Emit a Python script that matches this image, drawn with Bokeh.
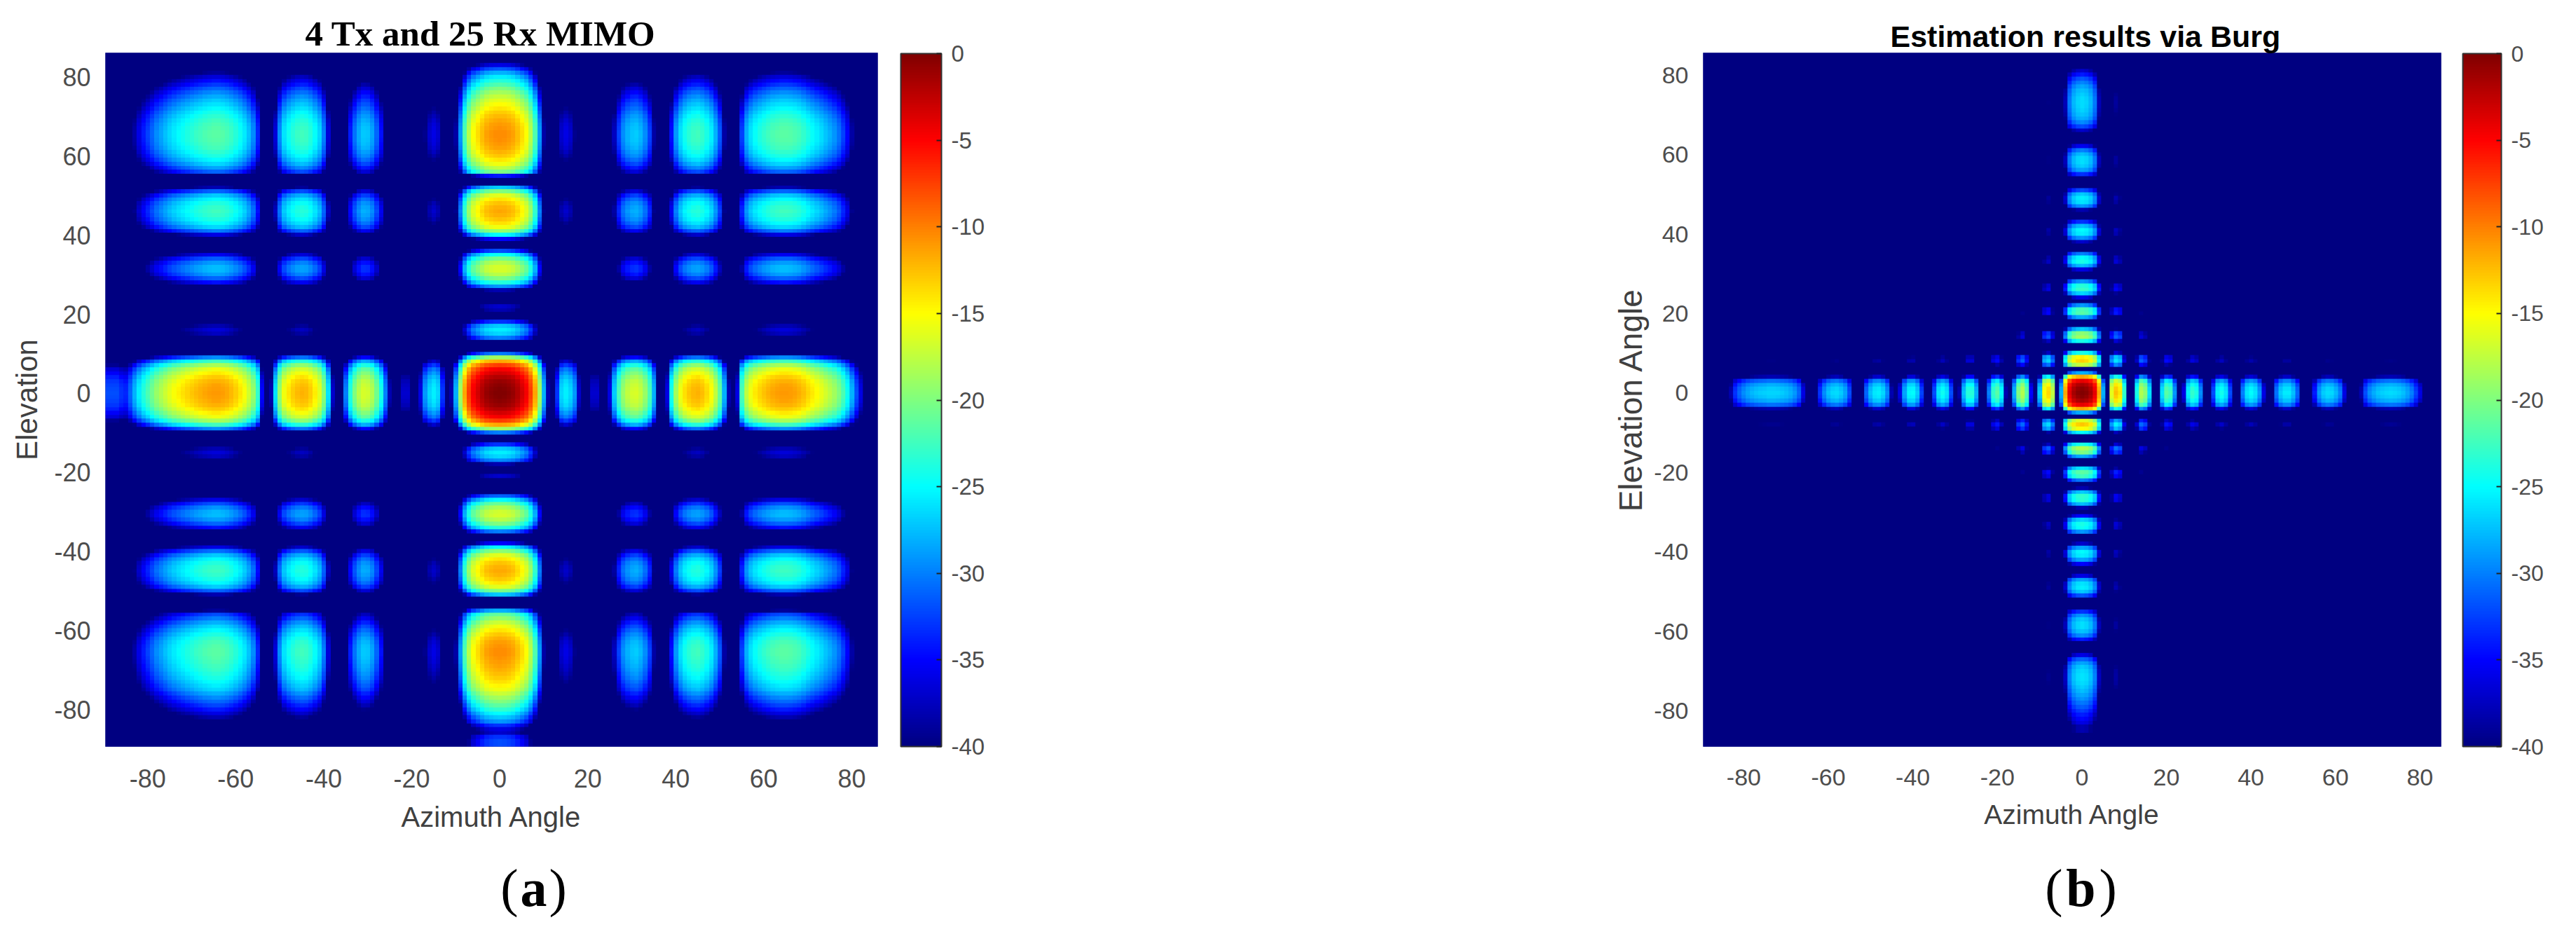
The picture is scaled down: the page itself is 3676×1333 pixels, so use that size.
import numpy as np
from bokeh.embed import file_html
from bokeh.resources import INLINE
from bokeh.layouts import column, row
from bokeh.plotting import figure
from bokeh.models import (AllLabels, ColorBar, FixedTicker, Label, LinearColorMapper,
                          PrintfTickFormatter, Range1d)

# Angles (degrees) of the samples in every cut below
cut_angles = list(range(-90, 87))
tick_values = [-80, -60, -40, -20, 0, 20, 40, 60, 80]
tick_labels = ["-80", "-60", "-40", "-20", "0", "20", "40", "60", "80"]
bar_values = [0, -5, -10, -15, -20, -25, -30, -35, -40]

# Panel (a): dB along the elevation = 0 row
a_azimuth_db = [
    -32, -32, -32, -32, -33, -33.5, -31, -28, -25.5, -23.5,
    -22, -20.5, -19, -18, -17, -16, -15.2, -14.5, -13.9, -13.3,
    -12.8, -12.3, -11.9, -11.5, -11.2, -11, -11, -11.2, -11.6, -12.2,
    -13, -14, -15.2, -16.8, -19, -23, -35, -60, -38, -26,
    -19, -15.5, -14, -13, -12.3, -12, -12.2, -13, -14.3, -16,
    -19.5, -26, -37, -60, -40, -30, -23.5, -20, -17.8, -16.6,
    -16.8, -18, -20.5, -24, -30, -38, -60, -60, -37, -37,
    -60, -60, -36, -29, -26.5, -25.5, -26.5, -33, -60, -38,
    -28, -18.5, -11.5, -7.3, -4.6, -3.2, -1.9, -0.9, -0.4, -0.1,
    0, -0.1, -0.4, -0.9, -1.9, -3.2, -4.6, -7.3, -11.5, -18.5,
    -28, -38, -60, -33, -26.5, -25.5, -26.5, -29, -37, -60,
    -60, -37, -37, -60, -60, -36, -27, -22, -19, -17.5,
    -16.7, -16.5, -17.3, -19, -22, -28, -40, -60, -36, -24,
    -18.5, -15.5, -13.8, -12.8, -12.2, -12, -12.5, -13.5, -15, -17.5,
    -21, -28, -38, -60, -36, -22, -17.5, -15.5, -14.2, -13.3,
    -12.6, -12, -11.5, -11.2, -11, -11, -11.1, -11.4, -11.8, -12.5,
    -13.4, -14.2, -15, -15.8, -16.7, -17.6, -18.6, -20, -22, -24.5,
    -28, -32, -36, -41, -50, -60, -60,
]
# Panel (a): dB along the azimuth = 0 column
a_elevation_db = [
    -32, -32, -32, -33, -37, -36, -33, -29, -27, -25,
    -23, -21.3, -19.8, -18.5, -17, -15.5, -14.6, -13.8, -13, -12.4,
    -11.8, -11.4, -11, -10.7, -10.5, -10.5, -10.7, -11.1, -11.8, -12.8,
    -14, -15.4, -17, -19, -21, -28, -40, -60, -40, -27,
    -20, -16, -14, -12.8, -12, -11.6, -11.9, -12.6, -14, -16,
    -19.5, -25, -35, -60, -40, -30, -23.5, -20, -17.8, -16.6,
    -16.8, -18.2, -20.8, -25, -31, -42, -60, -60, -40, -37,
    -50, -60, -38, -29.5, -26.5, -25.5, -27, -33, -50, -50,
    -30, -18.5, -11.5, -7.3, -4.6, -3.2, -1.9, -0.9, -0.4, -0.1,
    0, -0.1, -0.4, -0.9, -1.9, -3.2, -4.6, -7.3, -11.5, -18.5,
    -30, -50, -60, -42, -30, -26.5, -25.5, -27, -33, -55,
    -60, -38, -37, -50, -60, -60, -38, -29, -23.5, -20,
    -17.7, -16.6, -16.6, -17.8, -20.3, -24.5, -32, -43, -60, -35,
    -25, -19, -15.5, -13.8, -12.6, -11.9, -11.5, -11.9, -12.6, -14,
    -16, -20, -27, -40, -60, -34, -20, -17.5, -15.5, -14,
    -12.8, -12, -11.3, -10.9, -10.6, -10.5, -10.5, -10.7, -11, -11.5,
    -12.2, -13, -14, -15, -16, -17.2, -18.5, -20, -21.8, -23.5,
    -25.5, -28, -31.5, -36, -42, -60, -60,
]
# Panel (b): the same two cuts
b_azimuth_db = [
    -60, -60, -60, -60, -60, -60, -42, -38, -33, -31,
    -29.5, -28.5, -27.8, -27.3, -27, -26.8, -26.6, -26.6, -26.7, -27,
    -27.4, -28, -29, -31, -36, -60, -60, -45, -33, -29.5,
    -27.5, -26.5, -26.3, -27, -28.5, -32, -42, -60, -42, -31,
    -27.5, -25.8, -25.5, -26.5, -29.5, -38, -60, -36, -28.5, -25.2,
    -25, -27, -32.5, -45, -60, -32, -26, -24.5, -26, -32,
    -50, -38, -27.5, -23.5, -23.5, -28, -42, -60, -30, -23,
    -21.5, -25, -38, -50, -28, -20, -18, -21.5, -35, -60,
    -27, -15, -13.5, -17.5, -60, -28, -11.5, -4, -1.5, -0.4,
    0, -0.4, -1.5, -4, -11.5, -28, -60, -16, -12.6, -14,
    -23, -42, -60, -24, -18, -19.5, -26, -42, -60, -26,
    -21.5, -22.5, -29, -50, -36, -25.5, -23, -24, -29.5, -45,
    -60, -32, -25.5, -24.3, -26, -32, -50, -42, -30, -26,
    -25, -26, -29, -36, -60, -42, -30.5, -27, -25.7, -25.7,
    -27.5, -31, -40, -60, -50, -34, -29, -27, -26.3, -26.5,
    -27.8, -30, -36, -60, -60, -60, -38, -32, -29.5, -28.2,
    -27.3, -26.8, -26.5, -26.4, -26.5, -26.8, -27.5, -28.5, -30, -32.5,
    -36, -42, -60, -60, -60, -60, -60,
]
b_elevation_db = [
    -60, -60, -60, -60, -60, -38, -38, -36, -34.8, -33.8,
    -32.5, -31.3, -30.2, -29.2, -28.3, -27.5, -26.8, -26.3, -26, -26,
    -26.3, -27, -28.5, -31, -36, -50, -60, -60, -34, -29.3,
    -27.2, -26.2, -26.2, -27, -29, -33, -45, -60, -41, -31.5,
    -27, -25.5, -26, -28.5, -36, -60, -60, -35, -28.5, -25.5,
    -25, -28.5, -37, -60, -42, -29, -24.5, -24, -26.5, -35,
    -60, -38, -27.5, -23.2, -23, -27, -38, -60, -30, -22.5,
    -21.3, -26, -60, -45, -28, -20, -18, -24, -60, -42,
    -25, -15, -12.8, -16, -60, -28, -11.5, -4, -1.5, -0.4,
    0, -0.4, -1.5, -4, -11.5, -28, -60, -17, -13.2, -14.5,
    -24, -40, -60, -24, -18.5, -19.5, -27, -43, -60, -28,
    -21.5, -22, -29, -60, -36, -26.5, -22.7, -23.5, -29, -42,
    -60, -36, -27.5, -24, -25, -30, -44, -60, -37, -29,
    -25.5, -25, -27.5, -33, -60, -60, -38, -29, -26, -25.5,
    -27, -32, -42, -60, -46, -33, -28.5, -26.8, -26.2, -26.3,
    -27.5, -30, -35.5, -60, -60, -60, -37, -32, -29.5, -28,
    -27.2, -26.7, -26.4, -26.3, -26.4, -26.8, -27.4, -28.4, -29.8, -31.5,
    -34, -37, -42, -60, -60, -60, -60,
]
for cut in (a_azimuth_db, a_elevation_db, b_azimuth_db, b_elevation_db):
    assert len(cut) == len(cut_angles), len(cut)


def jet_palette(n=256):
    t = (np.arange(n) + 0.5) / n
    red = np.clip(np.minimum(4 * t - 1.5, 4.5 - 4 * t), 0, 1)
    green = np.clip(np.minimum(4 * t - 0.5, 3.5 - 4 * t), 0, 1)
    blue = np.clip(np.minimum(4 * t + 0.5, 2.5 - 4 * t), 0, 1)
    rgb = (np.stack([red, green, blue], axis=1) * 255).astype(int)
    return ["#%02x%02x%02x" % tuple(c) for c in rgb]


mapper = LinearColorMapper(palette=jet_palette(), low=-40, high=0)
TICK = "#4d4d4d"
LABEL = "#404040"


def panel(az_db, el_db, title, title_font, title_size, title_offset, ylabel, x_lim, y_lim,
          left, right, tick_size, xlabel_size, ylabel_size, ylabel_standoff,
          bar_gap, bar_width, bar_size):
    p = figure(width=1830, height=1200, output_backend="svg", toolbar_location=None,
               x_range=Range1d(*x_lim), y_range=Range1d(*y_lim),
               min_border_left=left, min_border_right=right,
               min_border_top=75, min_border_bottom=135, title=title,
               background_fill_color="white", border_fill_color="white")
    first = cut_angles[0] - 0.5
    p.image(image=[np.add.outer(np.array(el_db), np.array(az_db))], x=first, y=first,
            dw=len(az_db), dh=len(el_db), color_mapper=mapper)
    p.grid.visible = False
    p.outline_line_color = "#6f74b8"
    p.outline_line_width = 1
    p.title.text_font = title_font
    p.title.text_font_style = "bold"
    p.title.text_font_size = title_size
    p.title.text_color = "black"
    p.title.align = "left"
    p.title.offset = title_offset
    p.title.standoff = 0
    for ax, label, size in ((p.xaxis[0], "Azimuth Angle", xlabel_size), (p.yaxis[0], ylabel, ylabel_size)):
        ax.ticker = FixedTicker(ticks=tick_values)
        ax.major_label_overrides = dict(zip(tick_values, tick_labels))
        ax.axis_line_color = None
        ax.major_tick_line_color = None
        ax.minor_tick_line_color = None
        ax.major_label_text_font = "Liberation Sans"
        ax.major_label_text_font_size = tick_size
        ax.major_label_text_color = TICK
        ax.axis_label = label
        ax.axis_label_text_font = "Liberation Sans"
        ax.axis_label_text_font_style = "normal"
        ax.axis_label_text_font_size = size
        ax.axis_label_text_color = LABEL
    p.xaxis[0].major_label_standoff = 26
    p.xaxis[0].axis_label_standoff = 17
    p.yaxis[0].major_label_standoff = 15
    p.yaxis[0].axis_label_standoff = ylabel_standoff

    bar = ColorBar(color_mapper=mapper, location=(bar_gap, 0), width=bar_width, height=989,
                   margin=0, padding=0, ticker=FixedTicker(ticks=bar_values),
                   formatter=PrintfTickFormatter(format="%d"),
                   major_label_policy=AllLabels(),
                   major_label_text_font="Liberation Sans",
                   major_label_text_font_size=bar_size,
                   major_label_text_color=TICK, label_standoff=14,
                   major_tick_line_color="#222222", major_tick_line_width=2,
                   major_tick_in=7, major_tick_out=0,
                   minor_tick_line_color=None,
                   bar_line_color="#333333", bar_line_width=2,
                   border_line_color=None, background_fill_color=None)
    p.add_layout(bar, "right")
    return p


pa = panel(a_azimuth_db, a_elevation_db, "4 Tx and 25 Rx MIMO", "Liberation Serif",
           "51px", 285, "Elevation", (-89.6, 85.9), (-89.4, 86.2),
           150, 578, "36px", "40px", "42px", 12, 33, 58, "33px")
pb = panel(b_azimuth_db, b_elevation_db, "Estimation results via Burg", "Liberation Sans",
           "43px", 267, "Elevation Angle", (-89.6, 85.0), (-89, 85.6),
           600, 177, "34px", "39px", "46px", 4, 31, 55, "32px")

# Figure captions: "(a)" and "(b)" with a bold letter between plain brackets
caps = figure(width=3660, height=120, output_backend="svg", toolbar_location=None,
              x_range=Range1d(0, 3660), y_range=Range1d(0, 120),
              min_border_left=0, min_border_right=0, min_border_top=0, min_border_bottom=0,
              x_axis_location=None, y_axis_location=None, outline_line_color=None)
caps.grid.visible = False
for letter, centre, half in (("a", 761, 22), ("b", 2969, 26)):
    for text, style, align, off in (("(", "normal", "right", -half), (letter, "bold", "center", 0),
                                    (")", "normal", "left", half)):
        caps.add_layout(Label(x=centre, y=54, x_offset=off, text=text,
                              text_font="Liberation Serif", text_font_style=style,
                              text_font_size="76px", text_align=align,
                              text_baseline="middle", text_color="black"))

open("out.html", "w").write(file_html(column(row(pa, pb, spacing=0), caps, spacing=0), INLINE))
